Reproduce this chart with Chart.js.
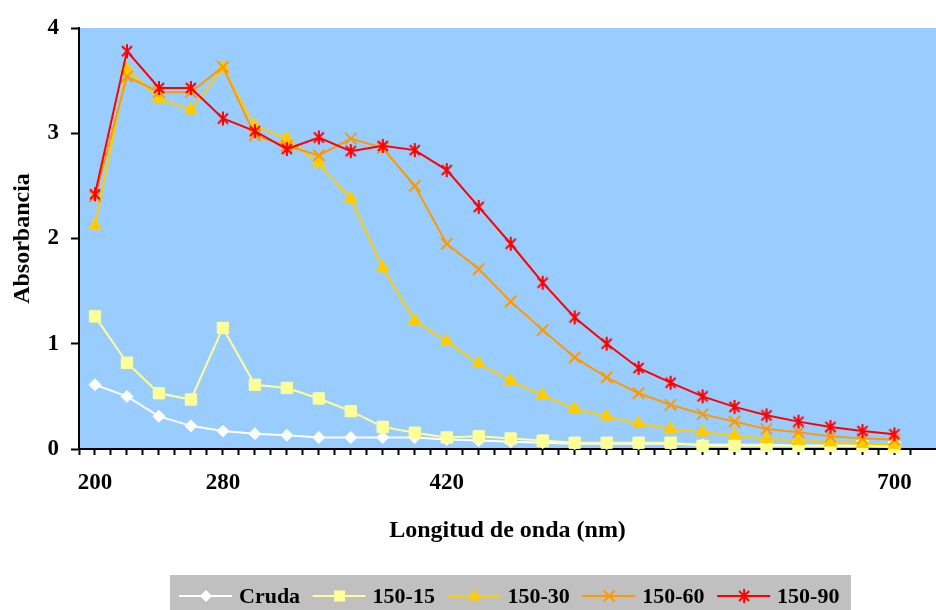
<!DOCTYPE html>
<html lang="es">
<head>
<meta charset="utf-8">
<title>Absorbancia</title>
<script src="https://cdn.jsdelivr.net/npm/chart.js@4.4.1/dist/chart.umd.min.js"></script>
<style>
  html, body { margin: 0; padding: 0; background: #fff; }
  #wrap { width: 936px; height: 610px; }
</style>
</head>
<body>
<div id="wrap"><canvas id="absChart" width="936" height="610"></canvas></div>
<script>
'use strict';

// ===== DATOS =====
const wavelengths = [200, 220, 240, 260, 280, 300, 320, 340, 360, 380, 400, 420, 440,
                     460, 480, 500, 520, 540, 560, 580, 600, 620, 640, 660, 680, 700];
const cruda   = [0.61, 0.50, 0.31, 0.22, 0.17, 0.145, 0.13, 0.11, 0.11, 0.11, 0.11, 0.09, 0.08,
                 0.07, 0.06, 0.05, 0.05, 0.05, 0.05, 0.04, 0.04, 0.04, 0.03, 0.03, 0.03, 0.03];
const s150_15 = [1.26, 0.82, 0.53, 0.47, 1.15, 0.61, 0.58, 0.48, 0.36, 0.21, 0.155, 0.11, 0.12,
                 0.10, 0.08, 0.06, 0.06, 0.06, 0.06, 0.03, 0.03, 0.03, 0.03, 0.03, 0.03, 0.02];
const s150_30 = [2.12, 3.61, 3.33, 3.22, 3.62, 3.07, 2.95, 2.71, 2.38, 1.72, 1.22, 1.02, 0.81,
                 0.65, 0.51, 0.38, 0.31, 0.24, 0.19, 0.16, 0.13, 0.095, 0.08, 0.065, 0.05, 0.04];
const s150_60 = [2.40, 3.54, 3.39, 3.39, 3.63, 2.98, 2.88, 2.79, 2.95, 2.86, 2.50, 1.95, 1.71,
                 1.40, 1.13, 0.87, 0.68, 0.53, 0.42, 0.33, 0.26, 0.19, 0.16, 0.12, 0.10, 0.09];
const s150_90 = [2.42, 3.78, 3.43, 3.43, 3.14, 3.02, 2.85, 2.96, 2.83, 2.88, 2.84, 2.65, 2.30,
                 1.95, 1.58, 1.25, 1.00, 0.77, 0.63, 0.50, 0.40, 0.32, 0.26, 0.21, 0.17, 0.14];
const seriesNames = ['Cruda', '150-15', '150-30', '150-60', '150-90'];
const xTickLabels = [200, 280, 420, 700];
const yTicks = [0, 1, 2, 3, 4];

const FONT = "'Liberation Serif', 'Times New Roman', serif";

// asterisco estilo Excel (X + barra vertical)
function makeStar(color) {
    const c = document.createElement('canvas');
    c.width = 18; c.height = 18;
    const g = c.getContext('2d');
    g.strokeStyle = color; g.lineWidth = 2;
    g.beginPath();
    g.moveTo(4, 4); g.lineTo(14, 14);
    g.moveTo(14, 4); g.lineTo(4, 14);
    g.moveTo(9, 2); g.lineTo(9, 16);
    g.stroke();
    return c;
}
const starRed = makeStar('#FF0000');

const styles = [
    { color: '#FFFFFF', pointStyle: 'rectRot', radius: 6, fill: '#FFFFFF' },
    { color: '#FFFF99', pointStyle: 'rect', radius: 8, fill: '#FFFF99' },
    { color: '#FFCC00', pointStyle: 'triangle', radius: 7.5, fill: '#FFCC00' },
    { color: '#FF9900', pointStyle: 'crossRot', radius: 8, fill: '#FF9900' },
    { color: '#FF0000', pointStyle: starRed, radius: 9, fill: '#FF0000' },
];
const values = [cruda, s150_15, s150_30, s150_60, s150_90];

const datasets = values.map((vals, i) => ({
    label: seriesNames[i],
    data: wavelengths.map((w, k) => ({ x: w, y: vals[k] })),
    borderColor: styles[i].color,
    borderWidth: 2,
    backgroundColor: styles[i].fill,
    pointStyle: styles[i].pointStyle,
    pointRadius: styles[i].radius,
    pointBorderColor: styles[i].color,
    pointBackgroundColor: styles[i].fill,
    pointBorderWidth: i === 3 ? 2 : 1,
    tension: 0,
    clip: false,
    order: values.length - i,   // la última serie queda encima
}));

// ===== PLUGINS =====
const plotBg = {
    id: 'plotBg',
    beforeDraw(chart) {
        const { ctx, chartArea: { left, top, right, bottom } } = chart;
        ctx.save();
        ctx.fillStyle = '#99CCFF';
        ctx.fillRect(left, top, right - left, bottom - top);
        ctx.restore();
    }
};

function drawMarker(ctx, i, x, y) {
    const s = styles[i];
    ctx.save();
    ctx.fillStyle = s.fill; ctx.strokeStyle = s.color; ctx.lineWidth = 2;
    ctx.beginPath();
    if (s.pointStyle === 'rectRot') {
        ctx.moveTo(x, y - 6); ctx.lineTo(x + 6, y); ctx.lineTo(x, y + 6); ctx.lineTo(x - 6, y);
        ctx.closePath(); ctx.fill();
    } else if (s.pointStyle === 'rect') {
        ctx.fillRect(x - 5.5, y - 5.5, 11, 11);
    } else if (s.pointStyle === 'triangle') {
        ctx.moveTo(x, y - 7); ctx.lineTo(x + 6.5, y + 4.5); ctx.lineTo(x - 6.5, y + 4.5);
        ctx.closePath(); ctx.fill();
    } else if (s.pointStyle === 'crossRot') {
        ctx.moveTo(x - 5.5, y - 5.5); ctx.lineTo(x + 5.5, y + 5.5);
        ctx.moveTo(x + 5.5, y - 5.5); ctx.lineTo(x - 5.5, y + 5.5);
        ctx.stroke();
    } else {
        ctx.drawImage(s.pointStyle, x - 9, y - 9);
    }
    ctx.restore();
}

const excelLegend = {
    id: 'excelLegend',
    afterDraw(chart) {
        const ctx = chart.ctx;
        const boxL = 170, boxT = 575, boxR = 851, cy = 596;
        ctx.save();
        ctx.fillStyle = '#C0C0C0';
        ctx.fillRect(boxL, boxT, boxR - boxL, 610 - boxT);
        ctx.font = 'bold 22px ' + FONT;
        ctx.textBaseline = 'middle';
        ctx.textAlign = 'left';
        let x = 179;
        seriesNames.forEach((name, i) => {
            ctx.strokeStyle = styles[i].color; ctx.lineWidth = 2;
            ctx.beginPath(); ctx.moveTo(x, cy); ctx.lineTo(x + 53, cy); ctx.stroke();
            drawMarker(ctx, i, x + 27, cy);
            ctx.fillStyle = '#000';
            ctx.fillText(name, x + 60, cy + 1);
            x += 60 + ctx.measureText(name).width + 12.5;
        });
        ctx.restore();
    }
};

// ===== CHART =====
new Chart(document.getElementById('absChart'), {
    type: 'line',
    data: { datasets },
    options: {
        responsive: false,
        animation: false,
        events: [],
        layout: { autoPadding: false, padding: { top: 28, right: 0, bottom: 0, left: 0 } },
        plugins: { legend: { display: false }, tooltip: { enabled: false } },
        scales: {
            x: {
                type: 'linear',
                min: 190, max: 726,
                afterFit(scale) { scale.height = 161; scale.paddingLeft = 0; scale.paddingRight = 0; },
                border: { display: true, color: '#000', width: 2 },
                grid: { drawOnChartArea: false, color: '#000', tickLength: 6, tickWidth: 2 },
                ticks: {
                    stepSize: 10, autoSkip: false, maxRotation: 0, padding: 14,
                    color: '#000', font: { family: FONT, size: 23, weight: 'bold' },
                    callback: v => xTickLabels.includes(v) ? String(v) : (v > 720 ? null : ''),
                },
                title: {
                    display: true, text: 'Longitud de onda (nm)', color: '#000',
                    font: { family: FONT, size: 24, weight: 'bold' },
                    padding: { top: 0, bottom: 65 },
                },
            },
            y: {
                min: 0, max: 4,
                afterFit(scale) { scale.width = 79; },
                border: { display: true, color: '#000', width: 2 },
                grid: { drawOnChartArea: false, color: '#000', tickLength: 8, tickWidth: 2 },
                ticks: {
                    stepSize: 1, padding: 12, color: '#000',
                    font: { family: FONT, size: 23, weight: 'bold' },
                    callback: v => yTicks.includes(v) ? String(v) : null,
                },
                title: {
                    display: true, text: 'Absorbancia', color: '#000',
                    font: { family: FONT, size: 24, weight: 'bold' },
                    padding: { top: 8, bottom: 0 },
                },
            },
        },
    },
    plugins: [plotBg, excelLegend],
});
</script>
</body>
</html>
